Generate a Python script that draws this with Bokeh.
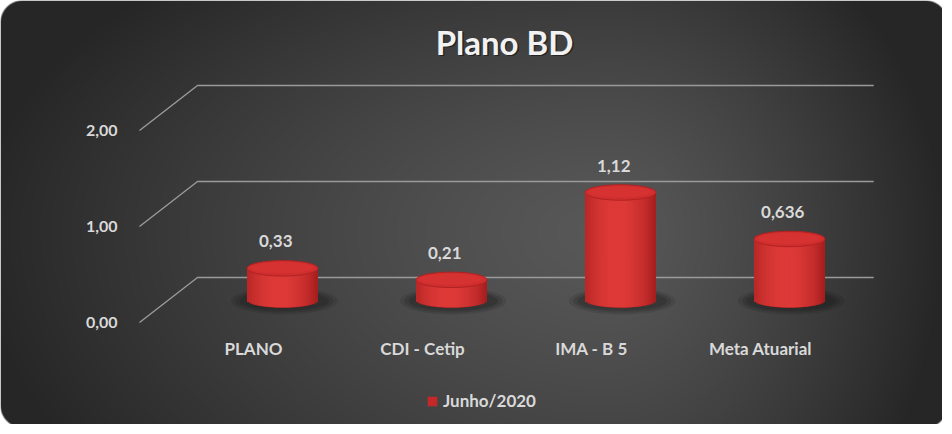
import numpy as np
from bokeh.plotting import figure
from bokeh.models import Range1d, Legend, LegendItem
from bokeh.core.properties import value
from bokeh.embed import file_html
from bokeh.resources import INLINE

# ---------------- data ----------------
categories = ["PLANO", "CDI - Cetip", "IMA - B 5", "Meta Atuarial"]
values = [0.33, 0.21, 1.12, 0.636]
value_labels = ["0,33", "0,21", "1,12", "0,636"]
y_ticks = [0, 1, 2]
y_tick_labels = ["0,00", "1,00", "2,00"]
series_name = "Junho/2020"
chart_title = "Plano BD"

# ---------------- layout ----------------
W, H = 942, 424
PX_X = 169.0          # pixels per category step
PX_Y = 96.0           # pixels per value unit
X0_PX = 253.0         # pixel column of category 0 (front)
Y0_PX = 322.0         # pixel row (from top) of value 0 (front)

xr = Range1d(-X0_PX / PX_X, (W - X0_PX) / PX_X)
yr = Range1d(-(H - Y0_PX) / PX_Y, Y0_PX / PX_Y)

DX = 58.0 / PX_X      # depth offset (x)
DY = 45.0 / PX_Y      # depth offset (y)
X_FRONT_LEFT = -114.0 / PX_X
X_BACK_RIGHT = len(categories) - 1 + 0.67
BW = 0.42             # cylinder width (x units)
EH = 15.5 / PX_Y      # ellipse height (y units)
FONT = "Lato"
TXT = "#d9d9d9"

p = figure(width=W, height=H, x_range=xr, y_range=yr,
           x_axis_type=None, y_axis_type=None,
           toolbar_location=None, output_backend="svg",
           min_border=0, outline_line_color=None,
           background_fill_color="white", border_fill_color="white")
p.grid.visible = False

# ---------------- background (rounded, radial gradient) ----------------
yy, xx = np.mgrid[0:H, 0:W].astype(float) + 0.5
cx, cy = 610.0, 230.0
dxn = np.where(xx < cx, (xx - cx) / 640.0, (xx - cx) / 335.0)
dyn = np.where(yy < cy, (yy - cy) / 350.0, (yy - cy) / 420.0)
r = np.clip(np.sqrt(dxn ** 2 + dyn ** 2), 0, 1)
light, dark = 88.0, 38.0
val = light - (light - dark) * r ** 1.3

# rounded box mask
bx0, by0, bx1, by1, rad = 0.0, 0.0, 947.0, 427.0, 22.0
qx = np.clip(xx, bx0 + rad, bx1 - rad)
qy = np.clip(yy, by0 + rad, by1 - rad)
dist = np.sqrt((xx - qx) ** 2 + (yy - qy) ** 2)
alpha = np.clip(rad - dist + 0.5, 0, 1)

img = np.empty((H, W), dtype=np.uint32)
view = img.view(dtype=np.uint8).reshape((H, W, 4))
v8 = np.clip(val, 0, 255).astype(np.uint8)
view[:, :, 0] = v8
view[:, :, 1] = v8
view[:, :, 2] = v8
view[:, :, 3] = (alpha * 255).astype(np.uint8)
p.image_rgba(image=[img[::-1]], x=xr.start, y=yr.start,
             dw=xr.end - xr.start, dh=yr.end - yr.start)

# ---------------- perspective gridlines ----------------
gx = [[X_FRONT_LEFT, X_FRONT_LEFT + DX, X_BACK_RIGHT] for t in y_ticks]
gy = [[t, t + DY, t + DY] for t in y_ticks]
p.multi_line(xs=gx, ys=gy, line_color="#9a9a9a", line_width=1.4)

# y tick labels
p.text(x=[X_FRONT_LEFT - 0.13] * len(y_ticks), y=y_ticks, text=y_tick_labels,
       text_align="right", text_baseline="middle", text_color=TXT,
       text_font=value(FONT), text_font_style="bold", text_font_size="16px")

# ---------------- cylinders ----------------
xs_c = [i + DX / 2 for i in range(len(categories))]
base = DY / 2
tops = [base + v for v in values]

# soft shadows
for k, (sw, sa) in enumerate([(1.5, 0.12), (1.38, 0.16), (1.26, 0.2)]):
    p.ellipse(x=[x + 0.01 for x in xs_c], y=[base - 0.01] * len(xs_c),
              width=BW * sw, height=EH * (1.25 + 0.25 * (2 - k)),
              fill_color="#141414", fill_alpha=sa, line_color=None)

# body (solid underlay, used for legend)
body = p.quad(left=[x - BW / 2 for x in xs_c], right=[x + BW / 2 for x in xs_c],
              bottom=[base] * len(xs_c), top=tops,
              fill_color="#c42828", line_color=None)
p.ellipse(x=xs_c, y=[base] * len(xs_c), width=BW, height=EH,
          fill_color="#a81c1c", line_color=None)

# shaded strips
N = 28
sl, sr, sb, st, sc = [], [], [], [], []
dark_c = np.array([150, 22, 22])
light_c = np.array([222, 58, 56])
for x, tp in zip(xs_c, tops):
    for k in range(N):
        u = (k + 0.5) / N * 2 - 1
        g = np.clip(1 - ((u + 0.1) / 1.2) ** 2, 0, 1) ** 0.9
        c = dark_c + (light_c - dark_c) * g
        left = x - BW / 2 + k * BW / N
        sl.append(left)
        sr.append(min(left + BW / N * 1.4, x + BW / 2))
        sb.append(base - EH / 2 * np.sqrt(max(0.0, 1 - u * u)) * 0.96)
        st.append(tp)
        sc.append("#%02x%02x%02x" % tuple(int(v) for v in c))
p.quad(left=sl, right=sr, bottom=sb, top=st, fill_color=sc, line_color=None)

# top caps
p.ellipse(x=xs_c, y=tops, width=BW, height=EH, fill_color="#d02e2e",
          line_color="#b02222", line_width=1)
p.ellipse(x=[x - 0.005 for x in xs_c], y=[t + EH * 0.04 for t in tops],
          width=BW * 0.88, height=EH * 0.72, fill_color="#d93535",
          fill_alpha=0.7, line_color=None)

# value labels
p.text(x=[x - 0.04 for x in xs_c], y=[t + 0.28 for t in tops], text=value_labels,
       text_align="center", text_baseline="middle", text_color=TXT,
       text_font=value(FONT), text_font_style="bold", text_font_size="17px")

# category labels (front plane)
p.text(x=list(range(len(categories))), y=[-0.27] * len(categories), text=categories,
       text_align="center", text_baseline="middle", text_color=TXT,
       text_font=value(FONT), text_font_style="bold", text_font_size="17px")

# ---------------- title ----------------
tx, ty = 251.0 / PX_X, (Y0_PX - 41.0) / PX_Y
p.text(x=[tx], y=[ty], text=[chart_title], text_align="center",
       text_baseline="middle", text_color="black", text_alpha=0.45,
       x_offset=1.5, y_offset=1.5,
       text_font=value(FONT), text_font_style="bold", text_font_size="33px")
p.text(x=[tx], y=[ty], text=[chart_title], text_align="center",
       text_baseline="middle", text_color="#f2f2f2",
       text_font=value(FONT), text_font_style="bold", text_font_size="33px")

# ---------------- legend ----------------
legend = Legend(items=[LegendItem(label=series_name, renderers=[body])],
                location=(426, 13), orientation="horizontal",
                background_fill_alpha=0, border_line_alpha=0,
                padding=0, margin=0, spacing=0, label_standoff=5,
                glyph_width=12, glyph_height=12, label_height=14,
                label_text_color=TXT, label_text_font=FONT,
                label_text_font_style="bold", label_text_font_size="17px")
p.add_layout(legend, "center")

open("out.html", "w").write(file_html(p, INLINE))
